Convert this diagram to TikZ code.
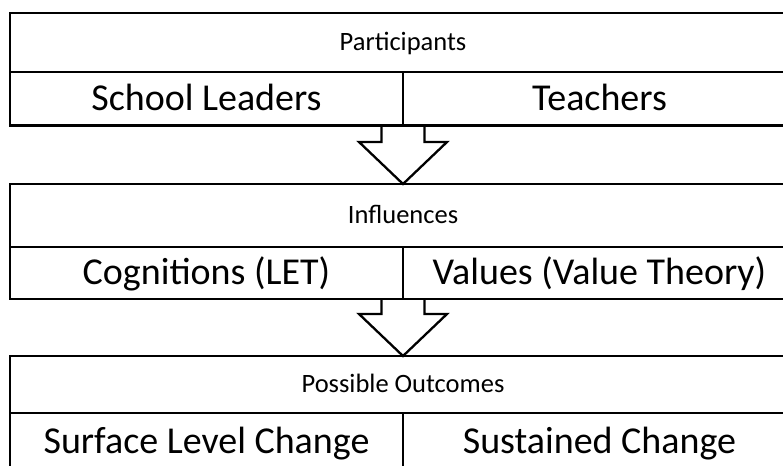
\documentclass[tikz,border=0pt]{standalone}
\usepackage{fontspec}
\setmainfont{Carlito}
\usepackage{tikz}
\usetikzlibrary{positioning}

\begin{document}
\begin{tikzpicture}[x=1pt,y=1pt,line width=2.3pt,
  every node/.append style={inner sep=0pt,outer sep=0pt},
  flow/.style={line width=2.3pt,line join=miter}]
  \tikzstyle{head} = [draw,minimum width=786pt,minimum height=59pt,
    font=\fontsize{26.5}{32}\selectfont,text height=16.7pt,text depth=0pt]
  \tikzstyle{cell} = [draw,minimum width=393pt,minimum height=53.5pt,
    font=\fontsize{38}{46}\selectfont,text height=24pt,text depth=0pt]
  \useasboundingbox (0,0) rectangle (783,465);
  % participants
  \node (hd_1) [head] at (403,422.5) {Participants};
  \node (cl_1) [cell,below right=0pt and 0pt of hd_1.south west] {School Leaders};
  \node (cr_1) [cell,right=0pt of cl_1] {Teachers};
  % influences
  \node (hd_2) [head,minimum height=63pt] at (403,249.5) {Influences};
  \node (cl_2) [cell,minimum height=52pt,below right=0pt and 0pt of hd_2.south west] {Cognitions (LET)};
  \node (cr_2) [cell,minimum height=52pt,right=0pt of cl_2] {Values (Value Theory)};
  % outcomes
  \node (hd_3) [head,minimum height=57pt] at (403,80.5) {Possible Outcomes};
  \node (cl_3) [cell,minimum height=57pt,below right=0pt and 0pt of hd_3.south west] {Surface Level Change};
  \node (cr_3) [cell,minimum height=57pt,right=0pt of cl_3] {Sustained Change};
  % arrows
  \foreach \a/\b in {1/2,2/3}
    \draw[flow] ([xshift=-21.5pt]cl_\a.south east) |- ([xshift=-44pt,yshift=42pt]hd_\b.north)
      -- (hd_\b.north) -- ([xshift=44pt,yshift=42pt]hd_\b.north) -| ([xshift=21.5pt]cl_\a.south east);
\end{tikzpicture}
\end{document}
